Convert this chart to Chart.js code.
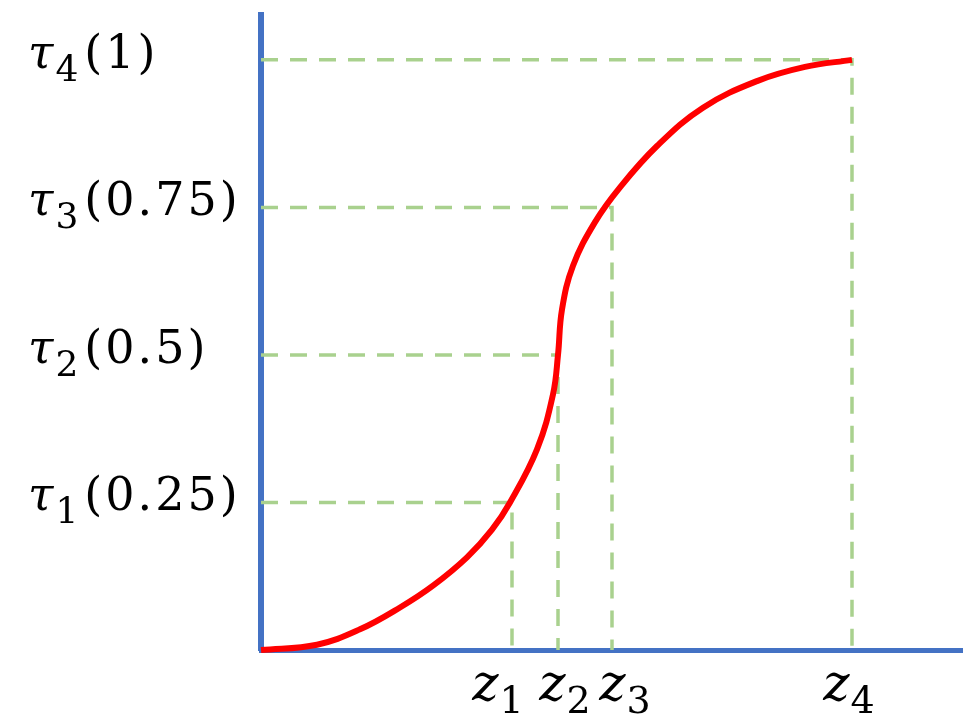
<!DOCTYPE html>
<html>
<head>
<meta charset="utf-8">
<script src="https://cdn.jsdelivr.net/npm/chart.js@4.4.1/dist/chart.umd.min.js"></script>
<style>
  html, body { margin: 0; padding: 0; background: #ffffff; }
  #wrap { width: 964px; height: 727px; }
</style>
</head>
<body>
<div id="wrap"><canvas id="c" width="964" height="727"></canvas></div>
<script>
// Quantile curve (x in axis units, y = quantile level)
const curveX = [0, 0.56, 0.99, 1.39, 1.72, 2.06, 2.31, 2.49, 2.76, 2.92, 2.97, 3.01, 3.12, 3.34, 3.59, 3.96, 4.42, 4.96, 5.44, 5.91];
const curveY = [0, 0.009, 0.035, 0.072, 0.109, 0.157, 0.204, 0.25, 0.340, 0.433, 0.5, 0.577, 0.651, 0.725, 0.784, 0.854, 0.919, 0.964, 0.988, 1.0];

// Quantile levels (y ticks) and the matching x positions z_i
const tauLevels = [0.25, 0.5, 0.75, 1];
const tauSymbol = "τ";
const tauSubs = ["1", "2", "3", "4"];
const zValues = [2.51, 2.97, 3.51, 5.91];
const zSymbol = "z";
const zSubs = ["1", "2", "3", "4"];

// Styling
const AXIS_BLUE = '#4472C4';
const GUIDE_GREEN = '#A9D18E';
const FONT = 'DejaVu Serif';
const zLabelNudge = [-14, 7, 13, -3]; // px, keeps the crowded x labels apart as in the original

const datasets = [{
  data: curveX.map((x, i) => ({ x: x, y: curveY[i] })),
  borderColor: '#FF0000',
  borderWidth: 6,
  pointRadius: 0,
  showLine: true,
  fill: false,
  tension: 0.4,
  clip: 12
}];

tauLevels.forEach((t, i) => {
  datasets.push({
    data: [{ x: 0, y: t }, { x: zValues[i], y: t }, { x: zValues[i], y: 0 }],
    borderColor: GUIDE_GREEN,
    borderWidth: 3.5,
    borderDash: [17, 12],
    pointRadius: 0,
    showLine: true,
    fill: false,
    tension: 0,
    clip: 12
  });
});

// Draws a label made of parts: [{text, font, dy, gap, ls}]
function drawParts(ctx, x, baseline, parts, align) {
  let total = 0;
  parts.forEach(p => {
    ctx.font = p.font;
    ctx.letterSpacing = p.ls || '0px';
    p.w = ctx.measureText(p.text).width;
    total += p.w + (p.gap || 0);
  });
  let cx = align === 'center' ? x - total / 2 : x;
  parts.forEach(p => {
    ctx.font = p.font;
    ctx.letterSpacing = p.ls || '0px';
    ctx.fillText(p.text, cx, baseline + (p.dy || 0));
    cx += p.w + (p.gap || 0);
  });
  ctx.letterSpacing = '0px';
}

const richLabels = {
  id: 'richLabels',
  afterDraw(chart) {
    const ctx = chart.ctx;
    const xs = chart.scales.x, ys = chart.scales.y;
    ctx.save();
    ctx.fillStyle = '#000000';
    ctx.textBaseline = 'alphabetic';
    ctx.textAlign = 'left';
    tauLevels.forEach((t, i) => {
      const py = ys.getPixelForValue(t);
      drawParts(ctx, 28, py + 8, [
        { text: tauSymbol, font: `italic 46px "${FONT}"`, gap: 2 },
        { text: tauSubs[i], font: `36px "${FONT}"`, dy: 13, gap: 6 },
        { text: '(' + t + ')', font: `46px "${FONT}"`, ls: '3px' }
      ], 'left');
    });
    zValues.forEach((z, i) => {
      const px = xs.getPixelForValue(z);
      drawParts(ctx, px + zLabelNudge[i], 700, [
        { text: zSymbol, font: `italic 50px "${FONT}"`, gap: 1 },
        { text: zSubs[i], font: `38px "${FONT}"`, dy: 13 }
      ], 'center');
    });
    ctx.restore();
  }
};

new Chart(document.getElementById('c'), {
  type: 'scatter',
  data: { datasets: datasets },
  plugins: [richLabels],
  options: {
    responsive: false,
    animation: false,
    events: [],
    layout: { padding: { left: 28, top: 15, right: 2, bottom: 0 } },
    plugins: { legend: { display: false }, tooltip: { enabled: false } },
    scales: {
      x: {
        type: 'linear',
        min: 0,
        max: 7.01,
        grid: { display: false },
        border: { display: true, color: AXIS_BLUE, width: 5 },
        ticks: { display: false },
        afterFit: (scale) => { scale.height = 77; }
      },
      y: {
        type: 'linear',
        min: 0,
        max: 1.076,
        grid: { display: false },
        border: { display: true, color: AXIS_BLUE, width: 6 },
        ticks: { display: false },
        afterFit: (scale) => { scale.width = 233; }
      }
    }
  }
});
</script>
</body>
</html>
